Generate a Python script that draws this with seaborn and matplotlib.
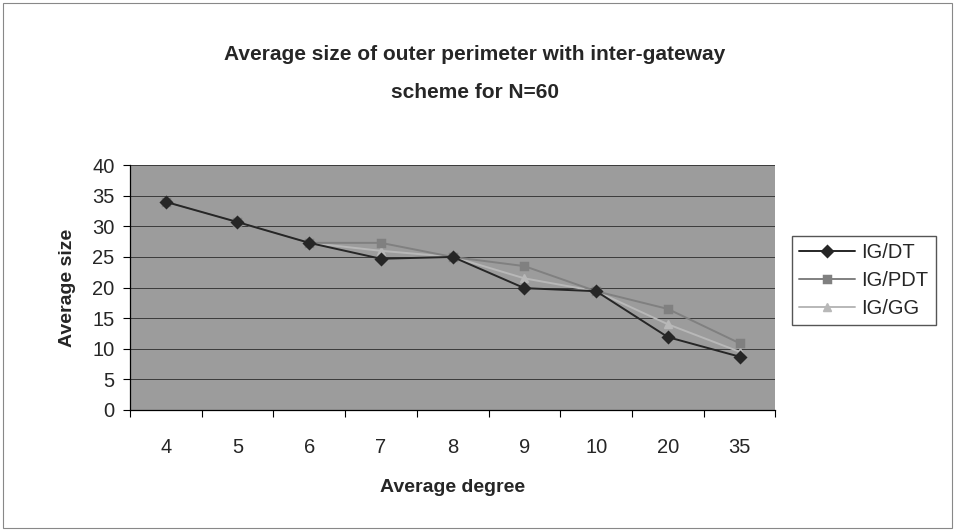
import matplotlib
matplotlib.use("Agg")
import matplotlib.pyplot as plt
import seaborn as sns
import pandas as pd
import numpy as np

# Data
degrees = ["4", "5", "6", "7", "8", "9", "10", "20", "35"]
ig_dt = [34.0, 30.7, 27.3, 24.7, 25.0, 19.9, 19.4, 11.9, 8.7]
ig_pdt = [34.0, 30.7, 27.3, 27.3, 25.0, 23.5, 19.4, 16.5, 10.9]
ig_gg = [34.0, 30.7, 27.3, 26.0, 25.0, 21.5, 19.4, 14.0, 9.5]
series_names = ["IG/DT", "IG/PDT", "IG/GG"]
y_ticks = [0, 5, 10, 15, 20, 25, 30, 35, 40]

df = pd.concat([
    pd.DataFrame({"degree": degrees, "size": vals, "scheme": name})
    for name, vals in zip(series_names, [ig_dt, ig_pdt, ig_gg])
])

sns.set_theme(style="white")
plt.rcParams["font.family"] = ["Liberation Sans", "DejaVu Sans"]

fig = plt.figure(figsize=(9.55, 5.31), dpi=100)
ax = fig.add_axes([0.136, 0.228, 0.676, 0.461])
ax.set_facecolor("#9c9c9c")

# Draw lighter series first so IG/DT sits on top
palette = {"IG/DT": "#262626", "IG/PDT": "#808080", "IG/GG": "#b8b8b8"}
sns.pointplot(data=df, x="degree", y="size", hue="scheme", order=degrees,
              hue_order=series_names[::-1], palette=palette,
              markers=["^", "s", "D"], linestyles=["-", "-", "-"],
              markersize=6, linewidth=1.4, errorbar=None, ax=ax)

# Horizontal gridlines at every tick
ax.set_ylim(0, 40)
ax.set_yticks(y_ticks)
ax.yaxis.grid(True, color="#3a3a3a", linewidth=0.7)
ax.set_axisbelow(True)
ax.set_xlim(-0.5, len(degrees) - 0.5)

# Category labels centred, tick marks at category boundaries
ax.set_xticks(range(len(degrees)))
ax.set_xticklabels(degrees)
ax.set_xticks(np.arange(-0.5, len(degrees)), minor=True)
ax.tick_params(axis="x", which="major", length=0, pad=20, labelsize=14.5)
ax.tick_params(axis="x", which="minor", length=5, color="black", width=0.8,
               direction="out", bottom=True)
ax.tick_params(axis="y", which="major", length=5, color="black", width=0.8,
               direction="out", left=True, labelsize=14.5, pad=6)

for side in ["top", "right"]:
    ax.spines[side].set_visible(False)
for side in ["left", "bottom"]:
    ax.spines[side].set_color("black")
    ax.spines[side].set_linewidth(0.9)

ax.set_xlabel("Average degree", fontsize=14, fontweight="bold", labelpad=16)
ax.set_ylabel("Average size", fontsize=14, fontweight="bold", labelpad=12)

fig.text(0.497, 0.897, "Average size of outer perimeter with inter-gateway",
         ha="center", va="center", fontsize=15, fontweight="bold")
fig.text(0.497, 0.825, "scheme for N=60",
         ha="center", va="center", fontsize=15, fontweight="bold")

# Legend in the original series order
handles, labels = ax.get_legend_handles_labels()
order = [labels.index(n) for n in series_names]
ax.legend([handles[i] for i in order], [labels[i] for i in order],
          loc="center left", bbox_to_anchor=(1.01, 0.53), frameon=True,
          fontsize=14.5, handlelength=2.8, handletextpad=0.3,
          labelspacing=0.45, borderpad=0.35, fancybox=False,
          edgecolor="#555555", framealpha=1, facecolor="white")

# Chart area border
fig.patches.append(plt.Rectangle((0.003, 0.005), 0.994, 0.99,
                                 transform=fig.transFigure, fill=False,
                                 edgecolor="#888888", linewidth=0.8))

fig.savefig("out.png", dpi=100, facecolor="white")
